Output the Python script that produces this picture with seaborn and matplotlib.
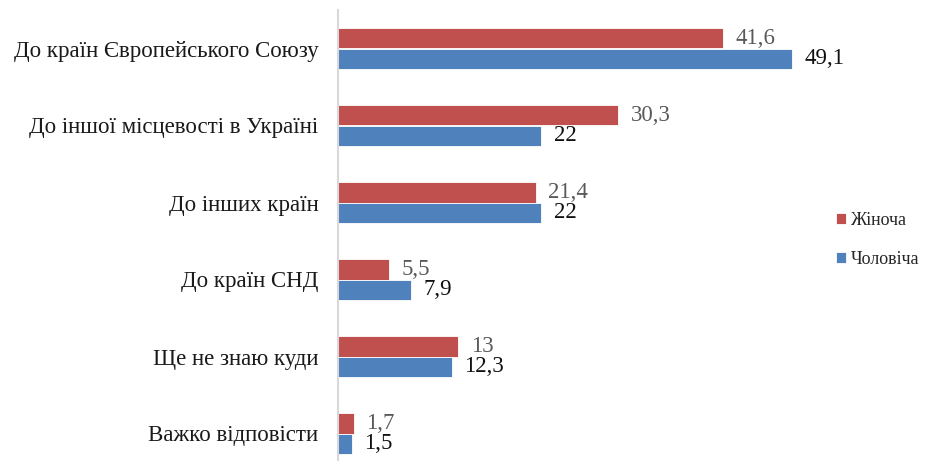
import pandas as pd
import seaborn as sns
import matplotlib.pyplot as plt
plt.switch_backend('agg')

categories = ['До країн Європейського Союзу', 'До іншої місцевості в Україні', 'До інших країн',
              'До країн СНД', 'Ще не знаю куди', 'Важко відповісти']
female = [41.6, 30.3, 21.4, 5.5, 13, 1.7]
male = [49.1, 22, 22, 7.9, 12.3, 1.5]
series = ['Жіноча', 'Чоловіча']
colors = ['#C0504D', '#4F81BD']

df = pd.DataFrame({
    'cat': categories * 2,
    'value': female + male,
    'sex': [series[0]] * len(categories) + [series[1]] * len(categories),
})

sns.set_style('white')
plt.rcParams['font.family'] = ['Liberation Serif', 'DejaVu Serif']

fig = plt.figure(figsize=(9.25, 4.67), dpi=100)
ax = fig.add_axes([338 / 925, -5 / 467, 554.6 / 925, 462 / 467])
sns.barplot(data=df, y='cat', x='value', hue='sex', order=categories, hue_order=series,
            palette=colors, orient='h', width=0.54, saturation=1, ax=ax, legend=True,
            edgecolor='white', linewidth=0.6)

ax.set_xlim(0, 60)
ax.set_ylim(5.5, -0.5)
ax.set_xlabel('')
ax.set_ylabel('')
ax.set_xticks([])
ax.tick_params(axis='y', length=0, labelsize=16.5, pad=14, labelcolor='#1a1a1a')
for s in ['top', 'right', 'bottom']:
    ax.spines[s].set_visible(False)
ax.spines['left'].set_color('#D9D9D9')
ax.spines['left'].set_linewidth(1.5)
ax.spines['left'].set_bounds(5.35, -0.5)

fmt = lambda v: ('%g' % v).replace('.', ',')
ax.bar_label(ax.containers[0], labels=[fmt(v) for v in female], padding=9,
             fontsize=16.5, color='#595959')
ax.bar_label(ax.containers[1], labels=[fmt(v) for v in male], padding=9,
             fontsize=16.5, color='#111111')

ax.legend_.remove()
handles, labels = ax.get_legend_handles_labels()
fig.legend(handles, labels, loc='center left', bbox_to_anchor=(820 / 925, 1 - 240 / 467),
           frameon=False, fontsize=13, handlelength=0.55, handleheight=0.55,
           handletextpad=0.25, labelspacing=1.2)

fig.savefig('out.png', dpi=100)
